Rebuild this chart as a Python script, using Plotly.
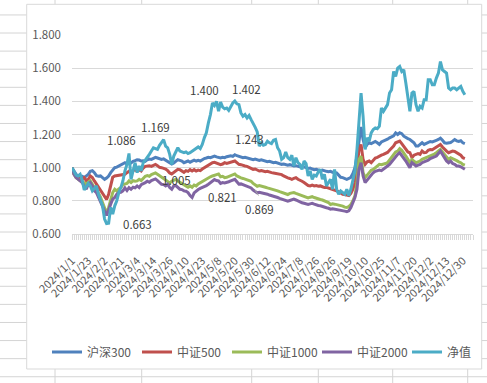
import plotly.graph_objects as go

tick_labels = ["2024/1/1", "2024/1/23", "2024/2/2", "2024/2/21", "2024/3/4", "2024/3/14",
               "2024/3/26", "2024/4/10", "2024/4/23", "2024/5/8", "2024/5/20", "2024/5/30",
               "2024/6/12", "2024/6/24", "2024/7/8", "2024/7/26", "2024/8/26", "2024/9/19",
               "2024/10/10", "2024/10/25", "2024/11/7", "2024/11/20", "2024/12/2", "2024/12/13",
               "2024/12/30"]
label_step = 8

hs300 = [
    1.000, 0.980, 0.960, 0.950, 0.950, 0.948, 0.940, 0.950, 0.960, 0.978,
    0.982, 0.970, 0.952, 0.948, 0.950, 0.940, 0.930, 0.938, 0.950, 0.970,
    0.988, 1.000, 1.003, 1.010, 1.012, 1.020, 1.030, 1.022, 1.030, 1.028,
    1.038, 1.042, 1.048, 1.046, 1.040, 1.042, 1.038, 1.048, 1.052, 1.050,
    1.058, 1.062, 1.058, 1.052, 1.050, 1.053, 1.045, 1.040, 1.030, 1.022,
    1.028, 1.038, 1.048, 1.044, 1.040, 1.030, 1.034, 1.040, 1.033, 1.038,
    1.045, 1.040, 1.044, 1.040, 1.048, 1.055, 1.058, 1.062, 1.060, 1.066,
    1.070, 1.065, 1.062, 1.058, 1.062, 1.060, 1.066, 1.070, 1.072, 1.068,
    1.078, 1.072, 1.068, 1.062, 1.060, 1.062, 1.058, 1.052, 1.050, 1.048,
    1.052, 1.046, 1.044, 1.048, 1.045, 1.040, 1.036, 1.038, 1.034, 1.030,
    1.032, 1.028, 1.025, 1.020, 1.022, 1.018, 1.015, 1.018, 1.012, 1.010,
    1.012, 1.008, 1.005, 1.008, 1.002, 1.000, 0.995, 0.998, 0.992, 0.988,
    0.990, 0.985, 0.982, 0.985, 0.980, 0.978, 0.975, 0.978, 0.972, 0.970,
    0.968, 0.955, 0.942, 0.940, 0.935, 0.930, 0.935, 0.942, 0.965, 1.000,
    1.070, 1.150, 1.246, 1.170, 1.120, 1.140, 1.150, 1.145, 1.152, 1.158,
    1.150, 1.140, 1.155, 1.160, 1.168, 1.172, 1.180, 1.188, 1.192, 1.210,
    1.200, 1.210, 1.205, 1.190, 1.180, 1.175, 1.170, 1.160, 1.150, 1.130,
    1.130, 1.140, 1.150, 1.140, 1.145, 1.150, 1.158, 1.155, 1.162, 1.165,
    1.170, 1.178, 1.165, 1.150, 1.148, 1.150, 1.152, 1.160, 1.170, 1.162,
    1.158, 1.162, 1.150, 1.145,
]

zz500 = [
    1.000, 0.962, 0.950, 0.940, 0.932, 0.930, 0.940, 0.922, 0.930, 0.950,
    0.940, 0.920, 0.900, 0.880, 0.862, 0.840, 0.822, 0.808, 0.840, 0.890,
    0.942, 0.950, 0.952, 0.950, 0.952, 0.958, 0.960, 0.970, 0.978, 0.972,
    0.982, 0.990, 0.978, 0.988, 0.980, 0.998, 1.008, 1.010, 1.012, 1.008,
    1.012, 1.020, 1.012, 1.002, 1.000, 0.998, 0.992, 0.982, 0.968, 0.962,
    0.970, 0.980, 0.990, 0.988, 0.980, 0.972, 0.982, 0.978, 0.988, 0.980,
    0.988, 0.980, 0.985, 0.982, 0.992, 1.000, 1.008, 1.018, 1.022, 1.030,
    1.032, 1.028, 1.025, 1.018, 1.022, 1.030, 1.026, 1.030, 1.032, 1.035,
    1.040, 1.030, 1.020, 1.018, 1.012, 1.010, 1.008, 1.002, 0.998, 0.990,
    0.992, 0.985, 0.980, 0.982, 0.978, 0.975, 0.978, 0.972, 0.970, 0.968,
    0.965, 0.962, 0.960, 0.958, 0.950, 0.942, 0.938, 0.935, 0.930, 0.935,
    0.940, 0.930, 0.925, 0.918, 0.910, 0.900, 0.892, 0.890, 0.895, 0.890,
    0.892, 0.888, 0.890, 0.885, 0.880, 0.882, 0.878, 0.872, 0.870, 0.865,
    0.862, 0.855, 0.848, 0.840, 0.838, 0.835, 0.832, 0.845, 0.870, 0.910,
    0.990, 1.110, 1.140, 1.050, 1.020, 1.035, 1.040, 1.030, 1.045, 1.058,
    1.062, 1.070, 1.075, 1.080, 1.085, 1.092, 1.105, 1.115, 1.130, 1.150,
    1.155, 1.160, 1.145, 1.130, 1.110, 1.095, 1.090, 1.060, 1.075, 1.080,
    1.085, 1.080, 1.100, 1.090, 1.092, 1.105, 1.110, 1.108, 1.115, 1.122,
    1.130, 1.140, 1.125, 1.110, 1.100, 1.090, 1.095, 1.100, 1.098, 1.090,
    1.080, 1.075, 1.060, 1.055,
]

zz1000 = [
    1.000, 0.960, 0.940, 0.930, 0.922, 0.918, 0.910, 0.900, 0.912, 0.920,
    0.900, 0.880, 0.870, 0.850, 0.822, 0.790, 0.760, 0.725, 0.760, 0.810,
    0.850, 0.870, 0.860, 0.872, 0.880, 0.898, 0.900, 0.905, 0.920, 0.910,
    0.922, 0.918, 0.920, 0.930, 0.922, 0.938, 0.948, 0.952, 0.948, 0.958,
    0.962, 0.968, 0.960, 0.952, 0.940, 0.932, 0.925, 0.918, 0.908, 0.918,
    0.922, 0.930, 0.920, 0.912, 0.902, 0.898, 0.890, 0.882, 0.890, 0.882,
    0.895, 0.890, 0.902, 0.910, 0.918, 0.925, 0.932, 0.940, 0.945, 0.950,
    0.952, 0.958, 0.962, 0.945, 0.948, 0.940, 0.942, 0.948, 0.950, 0.955,
    0.962, 0.950, 0.942, 0.938, 0.935, 0.930, 0.925, 0.922, 0.918, 0.905,
    0.895, 0.888, 0.892, 0.890, 0.885, 0.882, 0.878, 0.875, 0.872, 0.868,
    0.865, 0.860, 0.855, 0.850, 0.845, 0.840, 0.838, 0.845, 0.848, 0.850,
    0.845, 0.840, 0.835, 0.830, 0.828, 0.822, 0.818, 0.822, 0.825, 0.820,
    0.815, 0.812, 0.808, 0.805, 0.800, 0.795, 0.790, 0.778, 0.782, 0.780,
    0.778, 0.775, 0.770, 0.768, 0.762, 0.760, 0.765, 0.778, 0.800, 0.830,
    0.910, 1.050, 1.070, 0.970, 0.940, 0.955, 0.970, 0.985, 0.990, 1.000,
    1.005, 1.020, 1.018, 1.020, 1.025, 1.030, 1.045, 1.060, 1.080, 1.095,
    1.100, 1.115, 1.105, 1.090, 1.070, 1.050, 1.030, 1.048, 1.040, 1.030,
    1.035, 1.040, 1.050, 1.055, 1.060, 1.065, 1.072, 1.078, 1.082, 1.090,
    1.098, 1.110, 1.095, 1.080, 1.065, 1.050, 1.060, 1.055, 1.050, 1.042,
    1.035, 1.030, 1.020, 1.015,
]

zz2000 = [
    1.000, 0.960, 0.940, 0.930, 0.920, 0.910, 0.890, 0.870, 0.900, 0.910,
    0.890, 0.860, 0.850, 0.820, 0.800, 0.770, 0.740, 0.712, 0.750, 0.780,
    0.810, 0.820, 0.840, 0.850, 0.852, 0.860, 0.878, 0.862, 0.880, 0.870,
    0.882, 0.878, 0.890, 0.880, 0.898, 0.902, 0.910, 0.918, 0.912, 0.922,
    0.928, 0.932, 0.922, 0.912, 0.900, 0.898, 0.890, 0.900, 0.880, 0.870,
    0.890, 0.892, 0.880, 0.870, 0.868, 0.860, 0.858, 0.850, 0.832, 0.820,
    0.848, 0.860, 0.868, 0.875, 0.880, 0.885, 0.892, 0.900, 0.910, 0.918,
    0.928, 0.922, 0.920, 0.905, 0.910, 0.908, 0.910, 0.915, 0.920, 0.925,
    0.930, 0.915, 0.900, 0.902, 0.898, 0.890, 0.888, 0.882, 0.878, 0.865,
    0.855, 0.848, 0.852, 0.850, 0.845, 0.842, 0.840, 0.835, 0.832, 0.830,
    0.825, 0.820, 0.815, 0.810, 0.805, 0.800, 0.798, 0.802, 0.808, 0.810,
    0.805, 0.798, 0.792, 0.788, 0.785, 0.780, 0.778, 0.782, 0.785, 0.780,
    0.775, 0.772, 0.770, 0.765, 0.762, 0.758, 0.755, 0.750, 0.752, 0.750,
    0.750, 0.745, 0.742, 0.740, 0.738, 0.735, 0.740, 0.760, 0.790, 0.820,
    0.870, 0.990, 1.030, 0.950, 0.910, 0.925, 0.940, 0.960, 0.970, 0.978,
    0.980, 0.985, 0.982, 0.990, 1.000, 1.010, 1.020, 1.035, 1.050, 1.070,
    1.080, 1.090, 1.075, 1.060, 1.040, 1.020, 1.000, 1.030, 1.020, 1.010,
    1.015, 1.020, 1.030, 1.035, 1.040, 1.045, 1.055, 1.060, 1.065, 1.070,
    1.085, 1.100, 1.080, 1.060, 1.040, 1.030, 1.040, 1.025, 1.020, 1.010,
    1.010, 1.005, 0.995, 0.990,
]

nav = [
    1.000, 0.975, 0.955, 0.950, 0.960, 0.925, 0.865, 0.885, 0.905, 0.890,
    0.860, 0.875, 0.890, 0.840, 0.800, 0.770, 0.690, 0.663, 0.665, 0.760,
    0.720, 0.770, 0.800, 0.850, 0.880, 0.920, 0.980, 1.020, 1.086, 0.930,
    0.980, 1.030, 0.970, 1.010, 0.980, 1.030, 1.045, 1.060, 1.080, 1.100,
    1.120, 1.115, 1.110, 1.135, 1.150, 1.169, 1.130, 1.120, 1.080, 1.020,
    1.070, 1.095, 1.120, 1.100, 1.095, 1.090, 1.095, 1.085, 1.090, 1.100,
    1.110, 1.120, 1.125, 1.115, 1.140, 1.180, 1.210, 1.270, 1.320, 1.390,
    1.375, 1.400, 1.340, 1.395, 1.365, 1.355, 1.360, 1.345, 1.370, 1.390,
    1.402, 1.385, 1.380, 1.330, 1.310, 1.320, 1.300, 1.315, 1.290, 1.270,
    1.243, 1.215, 1.130, 1.150, 1.135, 1.140, 1.160, 1.150, 1.145, 1.165,
    1.170, 1.120, 1.100, 1.050, 1.060, 1.095, 1.060, 1.050, 1.075, 1.010,
    1.060, 1.030, 1.020, 0.990, 1.040, 1.025, 0.950, 0.980, 0.930, 0.955,
    0.950, 0.975, 0.990, 0.930, 0.960, 0.890, 0.910, 0.930, 0.870, 0.990,
    0.870, 0.840, 0.860, 0.850, 0.840, 0.870, 0.830, 0.870, 0.920, 0.980,
    1.110, 1.270, 1.450, 1.310, 1.110, 1.180, 1.160, 1.210, 1.230, 1.240,
    1.235, 1.250, 1.360, 1.340, 1.360, 1.380, 1.450, 1.470, 1.580, 1.550,
    1.600, 1.610, 1.580, 1.590, 1.510, 1.410, 1.340, 1.450, 1.460, 1.380,
    1.340, 1.370, 1.360, 1.410, 1.410, 1.530, 1.530, 1.500, 1.500, 1.540,
    1.570, 1.640, 1.590, 1.580, 1.570, 1.480, 1.470, 1.480, 1.480, 1.470,
    1.480, 1.490, 1.460, 1.440,
]

series_names = ["沪深300", "中证500", "中证1000", "中证2000", "净值"]
series_colors = ["#4F81BD", "#C0504D", "#9BBB59", "#8064A2", "#4BACC6"]

# data labels: text, category index, value position
label_texts = ["1.086", "1.169", "0.663", "1.005", "1.400", "1.402", "1.243", "0.821", "0.869"]
label_x = [24.1, 41.1, 32.3, 51.2, 65.3, 85.8, 87.1, 74.0, 92.0]
label_y = [1.165, 1.243, 0.662, 0.924, 1.469, 1.475, 1.171, 0.825, 0.749]

W, H = 487, 383
PL, PR, PT, PB = 72, 473, 35, 234


def px(x):
    return (x - PL) / (PR - PL)


def py(y):
    return (PB - y) / (PB - PT)


fig = go.Figure()
all_series = [hs300, zz500, zz1000, zz2000, nav]
n = len(nav)
xs = list(range(n))
for name, color, vals in zip(series_names, series_colors, all_series):
    fig.add_trace(go.Scatter(x=xs, y=vals, mode="lines", name=name,
                             line=dict(color=color, width=3)))

shapes = []
grid_col = "#D4D4D4"
# spreadsheet cell grid (background)
for cx in [55, 141.7, 251.7, 318.3, 392.7, 467.7]:
    shapes.append(dict(type="line", xref="paper", yref="paper", x0=px(cx), x1=px(cx),
                       y0=py(-2), y1=py(H + 2), line=dict(color=grid_col, width=1), layer="below"))
for k in range(-4, 17):
    ry = 87.3 + 18.09 * k
    shapes.append(dict(type="line", xref="paper", yref="paper", x0=px(-2), x1=px(W + 2),
                       y0=py(ry), y1=py(ry), line=dict(color=grid_col, width=1), layer="below"))
# chart area
shapes.append(dict(type="rect", xref="paper", yref="paper", x0=px(26.7), x1=px(481.7),
                   y0=py(369), y1=py(4.3), fillcolor="white",
                   line=dict(color="#D9D9D9", width=1), layer="below"))
# leader line of the "0.869" data label
shapes.append(dict(type="line", xref="paper", yref="paper", x0=px(255), x1=px(258.5),
                   y0=py(190), y1=py(195.5), line=dict(color="#A6A6A6", width=1)))

annotations = []
for t, lx, ly in zip(label_texts, label_x, label_y):
    annotations.append(dict(x=lx, y=ly, xref="x", yref="y", text=t, showarrow=False,
                            font=dict(size=11.5, color="#404040", family="Noto Sans CJK SC")))

fig.update_layout(
    width=W, height=H,
    margin=dict(l=PL, r=W - PR, t=PT, b=H - PB, pad=0, autoexpand=False),
    paper_bgcolor="white", plot_bgcolor="rgba(0,0,0,0)",
    font=dict(family="Noto Sans CJK SC", size=11, color="#595959"),
    shapes=shapes, annotations=annotations,
    showlegend=True,
    legend=dict(orientation="h", xref="paper", yref="paper",
                x=px(47), xanchor="left", y=py(352), yanchor="middle",
                entrywidth=45, entrywidthmode="pixels",
                font=dict(size=12, color="#595959"), itemwidth=30, bgcolor="rgba(0,0,0,0)"),
    xaxis=dict(range=[0, 197], showgrid=False, zeroline=False, automargin=False,
               showline=True, linecolor="#D9D9D9", linewidth=1,
               tickmode="array", tickvals=[i * label_step for i in range(len(tick_labels))],
               ticktext=tick_labels, tickangle=-45, ticks="outside", ticklen=5,
               tickcolor="#D9D9D9", tickfont=dict(size=11, color="#595959"),
               ticklabelstandoff=10,
               minor=dict(ticks="outside", dtick=1, tick0=0, ticklen=5, tickcolor="#D9D9D9")),
    yaxis=dict(range=[0.6, 1.8], dtick=0.2, tick0=0.6, tickformat=".3f", automargin=False,
               showgrid=True, gridcolor="#D9D9D9", gridwidth=1, zeroline=False,
               showline=False, ticks="", ticklabelstandoff=10,
               tickfont=dict(size=11.5, color="#595959")),
)

fig.write_html("out.html", config={"displayModeBar": False},
               post_script="document.body.style.margin='0';")
